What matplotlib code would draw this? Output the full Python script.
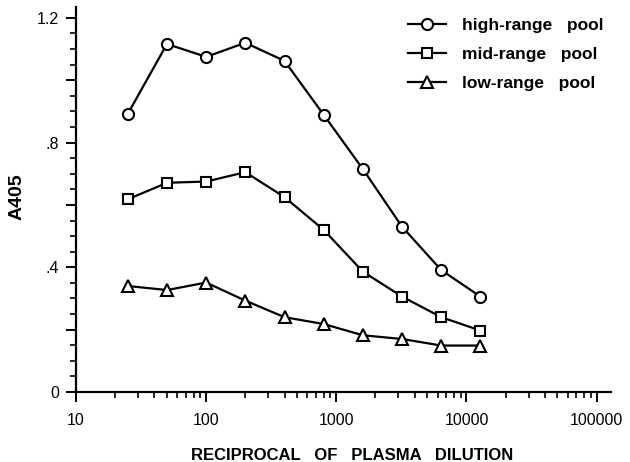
import matplotlib
matplotlib.use("Agg")
import matplotlib.pyplot as plt
from matplotlib.ticker import FixedLocator, FixedFormatter, LogLocator, NullFormatter, MultipleLocator

dilution = [25, 50, 100, 200, 400, 800, 1600, 3200, 6400, 12800]
high_range = [0.892, 1.116, 1.075, 1.120, 1.062, 0.889, 0.715, 0.530, 0.391, 0.306]
mid_range = [0.618, 0.671, 0.675, 0.705, 0.625, 0.520, 0.386, 0.306, 0.240, 0.197]
low_range = [0.340, 0.327, 0.351, 0.293, 0.240, 0.218, 0.182, 0.170, 0.149, 0.149]
series_names = ["high-range   pool", "mid-range   pool", "low-range   pool"]
y_ticks = [0, 0.2, 0.4, 0.6, 0.8, 1.0, 1.2]
y_labels = ["0", "", ".4", "", ".8", "", "1.2"]
x_ticks = [10, 100, 1000, 10000, 100000]
x_labels = ["10", "100", "1000", "10000", "100000"]

plt.rcParams['font.family'] = ['Liberation Sans', 'DejaVu Sans']

fig = plt.figure(figsize=(6.3, 4.62), dpi=100)
ax = fig.add_axes([0.1206, 0.1515, 0.850, 0.8335])

markers = ['o', 's', '^']
sizes = [8, 7.8, 9]
for vals, m, ms, name in zip([high_range, mid_range, low_range], markers, sizes, series_names):
    ax.plot(dilution, vals, color='black', lw=1.6, marker=m, ms=ms,
            mfc='white', mec='black', mew=1.5, label=name)

ax.set_xscale('log')
ax.set_xlim(10, 1.3e5)
ax.set_ylim(0, 1.235)

for s in ['top', 'right']:
    ax.spines[s].set_visible(False)
for s in ['left', 'bottom']:
    ax.spines[s].set_linewidth(1.6)

ax.yaxis.set_major_locator(FixedLocator(y_ticks))
ax.yaxis.set_major_formatter(FixedFormatter(y_labels))
ax.yaxis.set_minor_locator(MultipleLocator(0.05))
ax.xaxis.set_major_locator(FixedLocator(x_ticks))
ax.xaxis.set_major_formatter(FixedFormatter(x_labels))
ax.xaxis.set_minor_locator(LogLocator(base=10, subs=range(2, 10)))
ax.xaxis.set_minor_formatter(NullFormatter())

ax.tick_params(axis='both', which='major', direction='out', length=7, width=1.4, labelsize=11.5)
ax.tick_params(axis='both', which='minor', direction='out', length=4, width=1.2)
ax.tick_params(axis='x', which='major', pad=8)
ax.tick_params(axis='y', which='major', pad=5)

ax.set_xlabel("RECIPROCAL   OF   PLASMA   DILUTION", fontsize=12, fontweight='bold')
ax.xaxis.set_label_coords(0.515, -0.145)
ax.set_ylabel("A405", fontsize=14, fontweight='bold')
ax.yaxis.set_label_coords(-0.095, 0.506)

leg = fig.legend(*ax.get_legend_handles_labels(), loc='upper left',
                 bbox_to_anchor=(408 / 630, 1 - 18 / 462), frameon=False,
                 prop={'weight': 'bold', 'size': 12.5}, handlelength=2.2, handletextpad=0.9,
                 labelspacing=0.8, borderpad=0, borderaxespad=0)

fig.savefig("out.png", dpi=100)
